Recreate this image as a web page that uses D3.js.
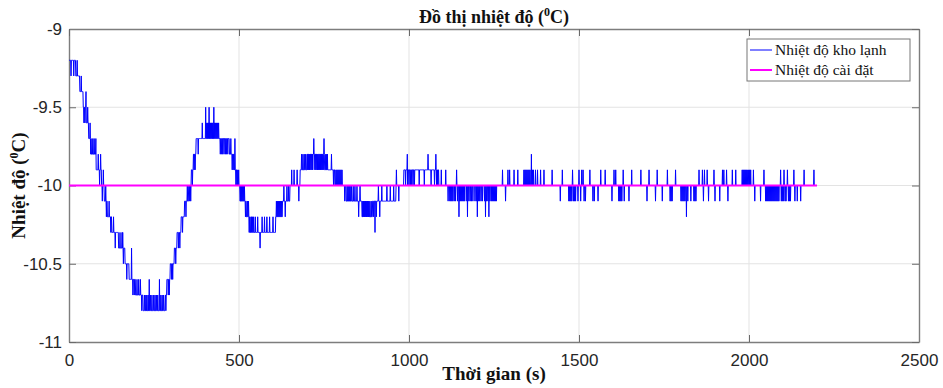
<!DOCTYPE html>
<html>
<head>
<meta charset="utf-8">
<script src="https://cdn.jsdelivr.net/npm/d3@7"></script>
<style>
  body { margin: 0; background: #fff; }
  svg { display: block; }
</style>
</head>
<body>
<div id="chart"></div>
<script>
// axis ticks
const timeTicks = [0, 500, 1000, 1500, 2000, 2500];
const tempTicks = [-11, -10.5, -10, -9.5, -9];

// set point (Nhiệt độ cài đặt)
const setTime = [0, 2200];
const setTemp = [-10, -10];

// cold room temperature (Nhiệt độ kho lạnh): level held from each time until the next
const baseTime = [0, 20, 32, 42, 51, 58, 66, 80, 96, 104, 113, 126, 146, 165, 177, 196, 218,
  283, 288, 298, 310, 318, 330, 340, 352, 360, 366, 374, 472, 486, 496, 503, 522, 532, 608,
  628, 650, 680, 700, 752, 782, 815, 862, 893, 962, 985, 1088];
const baseTemp = [-9.2, -9.3, -9.4, -9.5, -9.6, -9.7, -9.8, -9.9, -10, -10.1, -10.2, -10.3, -10.4, -10.5, -10.6, -10.7, -10.8,
  -10.7, -10.6, -10.5, -10.4, -10.3, -10.2, -10.1, -10, -9.9, -9.8, -9.7, -9.8, -9.9, -10, -10.1, -10.2, -10.3, -10.2,
  -10.1, -10, -9.9, -9.8, -9.9, -10, -10.1, -10.2, -10.1, -10, -9.9, -10];
const endTime = 2200;

// one-sample jumps away from the held level: [time, temp]
const spikes = [
  [6, -9.3], [14, -9.3], [24, -9.2], [36, -9.3], [44, -9.6], [47, -9.6], [50, -9.4], [55, -9.5],
  [62, -9.6], [64, -9.8], [70, -9.7], [74, -9.7], [79, -9.7], [86, -9.8], [90, -10], [93, -9.8],
  [98, -10.1], [101, -9.9], [108, -10], [110, -10.2], [118, -10.1], [123, -10.3], [131, -10.2],
  [136, -10.4], [150, -10.3], [156, -10.3], [158, -10.3], [160, -10.5], [170, -10.6], [184, -10.4],
  [188, -10.7], [192, -10.7], [200, -10.6], [205, -10.6], [210, -10.6], [214, -10.8],
  [222, -10.7], [226, -10.7], [229, -10.7], [233, -10.7], [236, -10.6], [240, -10.7], [244, -10.7],
  [249, -10.7], [253, -10.7], [257, -10.7], [261, -10.7], [266, -10.6], [270, -10.7], [274, -10.7],
  [278, -10.7], [285, -10.8], [292, -10.7], [295, -10.7], [302, -10.6], [305, -10.6], [314, -10.5],
  [322, -10.4], [326, -10.4], [334, -10.3], [344, -10.2], [348, -10], [355, -10.1], [358, -10.1],
  [363, -10], [368, -9.9], [371, -9.9],
  [380, -9.8], [392, -9.6], [402, -9.5], [405, -9.6], [408, -9.6], [410, -9.6], [412, -9.5],
  [414, -9.6], [416, -9.6], [419, -9.6], [421, -9.6], [423, -9.6], [426, -9.5], [428, -9.6],
  [431, -9.6], [434, -9.6], [437, -9.6], [440, -9.6], [445, -9.8], [449, -9.8], [452, -9.8],
  [456, -9.8], [460, -9.8], [463, -9.8], [467, -9.8], [476, -9.7], [480, -9.9], [483, -9.9],
  [488, -9.7], [491, -10], [494, -10], [499, -9.9],
  [505, -10], [507, -10], [510, -10], [513, -10], [516, -10], [519, -10.2], [525, -10.1],
  [528, -10.1], [530, -10.3], [535, -10.2], [537, -10.2], [540, -10.2], [543, -10.2], [548, -10.2],
  [555, -10.2], [562, -10.4], [568, -10.2], [575, -10.2], [582, -10.2], [590, -10.2], [600, -10.2],
  [610, -10.1], [613, -10.1], [616, -10.1], [619, -10.1], [622, -10.1], [625, -10.1],
  [632, -10], [636, -10.2], [641, -10], [646, -10], [655, -9.9], [662, -9.9], [671, -9.9],
  [676, -10.1], [684, -9.8], [688, -9.8], [692, -9.8], [696, -9.8],
  [702, -9.9], [704, -9.9], [707, -9.9], [709, -9.9], [712, -9.9], [715, -9.9], [717, -9.9],
  [720, -9.7], [723, -9.9], [726, -9.9], [729, -9.9], [731, -9.9], [734, -9.9], [737, -9.9],
  [740, -9.9], [742, -9.9], [745, -9.9], [748, -9.9], [750, -9.7],
  [755, -9.8], [758, -9.8], [760, -9.8], [772, -9.8], [778, -10],
  [785, -9.9], [788, -9.9], [791, -9.9], [794, -9.9], [797, -9.9], [800, -9.9], [803, -9.9],
  [811, -10.1], [818, -10], [821, -10], [824, -10], [827, -10], [831, -10], [836, -10], [841, -10],
  [847, -10], [852, -10.2], [856, -10],
  [864, -10.1], [866, -10.1], [868, -10.1], [870, -10.1], [872, -10.1], [874, -10.1], [876, -10.1],
  [878, -10.1], [880, -10.1], [882, -10.1], [885, -10.1], [889, -10.1],
  [896, -10.2], [900, -10.3], [904, -10.2], [910, -10], [914, -10.2], [920, -10], [935, -10],
  [945, -10], [955, -10], [963, -9.9], [970, -10.1],
  [990, -10], [995, -9.8], [996, -10], [1000, -10], [1004, -10], [1008, -10], [1012, -10],
  [1016, -10], [1030, -10], [1045, -10], [1056, -9.8], [1065, -10], [1075, -10], [1079, -9.8],
  [1081, -10], [1083, -10], [1085, -10],
  [1095, -9.9], [1108, -9.9], [1115, -10.1], [1120, -10.1], [1123, -10.1], [1126, -10.1],
  [1129, -10.1], [1133, -10.1], [1137, -10.1], [1140, -9.9], [1143, -10.1], [1147, -10.2],
  [1149, -10.1], [1152, -10.1], [1155, -10.1], [1158, -10.1], [1161, -10.1], [1164, -10.1],
  [1170, -10.1], [1172, -10.2], [1176, -10.1], [1180, -10.1], [1184, -10.1], [1188, -10.1],
  [1194, -10.1], [1198, -10.1], [1201, -10.2], [1204, -10.1], [1208, -10.1], [1212, -10.1],
  [1216, -10.1], [1222, -10.1], [1225, -10.2], [1228, -10.1], [1232, -10.1], [1235, -10.2],
  [1238, -10.1], [1242, -10.1], [1245, -10.1], [1248, -10.1], [1251, -10.1], [1254, -10.1],
  [1257, -10.1],
  [1275, -9.9], [1284, -10.1], [1291, -9.9], [1296, -9.9], [1309, -9.9], [1320, -9.9],
  [1338, -9.9], [1341, -9.9], [1344, -9.9], [1347, -9.9], [1350, -9.9], [1353, -9.9], [1356, -9.9],
  [1360, -9.8], [1363, -9.9], [1366, -9.9], [1372, -9.9], [1378, -9.9], [1387, -9.9], [1397, -9.9],
  [1421, -9.9], [1445, -10.1], [1451, -9.9], [1470, -10.1], [1473, -10.1], [1476, -10.1],
  [1479, -10.1], [1481, -9.9], [1484, -10.1], [1487, -10.1], [1490, -10.1], [1497, -10.1],
  [1500, -9.9], [1505, -10.1], [1508, -9.9], [1512, -9.9], [1515, -10.1], [1519, -10.1],
  [1532, -9.9], [1541, -10.1], [1545, -10.1], [1556, -10.1], [1564, -9.9], [1577, -9.9],
  [1597, -10.1], [1603, -9.9], [1608, -9.9], [1617, -10.1], [1620, -10.1], [1623, -10.1],
  [1626, -10.1], [1630, -9.9], [1633, -10.1], [1647, -10.1], [1655, -9.9], [1682, -9.9],
  [1700, -10.1], [1706, -9.9], [1725, -10.1], [1730, -9.9], [1745, -10.1], [1760, -9.9],
  [1768, -10.1], [1771, -10.1], [1774, -10.1], [1784, -9.9], [1800, -10.1], [1803, -10.1],
  [1806, -10.1], [1809, -10.1], [1812, -10.1], [1816, -10.2], [1820, -10.1], [1829, -10.1],
  [1838, -10.1], [1841, -10.1], [1844, -10.1],
  [1853, -9.9], [1863, -9.9], [1866, -10.1], [1869, -9.9], [1877, -9.9], [1881, -10.1],
  [1897, -9.9], [1900, -10.1], [1914, -10.1], [1922, -9.9], [1926, -9.9], [1934, -9.9],
  [1938, -10.1], [1951, -9.9], [1961, -9.9], [1980, -9.9], [1983, -9.9], [1986, -9.9],
  [1989, -9.9], [1992, -9.9], [1995, -9.9], [1999, -9.9], [2002, -9.9], [2005, -9.9],
  [2013, -9.9], [2017, -10.1], [2034, -10.1], [2044, -9.9], [2049, -10.1], [2052, -10.1],
  [2055, -10.1], [2058, -10.1], [2061, -10.1], [2064, -10.1], [2067, -10.1], [2070, -10.1],
  [2073, -10.1], [2076, -10.1], [2079, -10.1], [2082, -10.1], [2085, -10.1], [2088, -10.1],
  [2093, -9.9], [2095, -10.1], [2098, -10.1], [2101, -10.1], [2103, -9.9], [2106, -10.1],
  [2109, -10.1], [2113, -9.9], [2116, -10.1], [2119, -10.1], [2122, -10.1], [2132, -9.9],
  [2135, -10.1], [2142, -10.1], [2152, -10.1], [2162, -9.9], [2191, -9.9]
];

const W = 943, H = 388;
const margin = { top: 29, right: 24, bottom: 46, left: 69 };

const x = d3.scaleLinear().domain([0, 2500]).range([margin.left, W - margin.right]);
const y = d3.scaleLinear().domain([-11, -9]).range([H - margin.bottom, margin.top]);

// expand held levels + spikes into a 1 s sample series
const spikeAt = new Map(spikes);
const samples = d3.range(0, endTime + 1).map(function (t) {
  const i = d3.bisectRight(baseTime, t) - 1;
  return [t, spikeAt.has(t) ? spikeAt.get(t) : baseTemp[i]];
});

const svg = d3.select('#chart').append('svg')
  .attr('width', W).attr('height', H)
  .style('font-family', 'Liberation Sans, Arial, sans-serif');

svg.append('rect').attr('width', W).attr('height', H).attr('fill', '#fff');

// grid
const grid = svg.append('g').attr('stroke', '#e3e3e3').attr('stroke-width', 1);
grid.selectAll('.gx').data(timeTicks.slice(1, -1)).join('line')
  .attr('x1', d => x(d)).attr('x2', d => x(d))
  .attr('y1', y(-11)).attr('y2', y(-9));
grid.selectAll('.gy').data(tempTicks.slice(1, -1)).join('line')
  .attr('y1', d => y(d)).attr('y2', d => y(d))
  .attr('x1', x(0)).attr('x2', x(2500));

// axes (MATLAB style: ticks pointing inward, box on)
const fmt = d => String(d);
const ax = {
  bottom: d3.axisBottom(x).tickValues(timeTicks).tickFormat(fmt).tickSize(-7).tickSizeOuter(0).tickPadding(12),
  left: d3.axisLeft(y).tickValues(tempTicks).tickFormat(fmt).tickSize(-7).tickSizeOuter(0).tickPadding(7),
  top: d3.axisTop(x).tickValues(timeTicks).tickFormat('').tickSize(-7).tickSizeOuter(0),
  right: d3.axisRight(y).tickValues(tempTicks).tickFormat('').tickSize(-7).tickSizeOuter(0)
};
const axPos = {
  bottom: `translate(0,${y(-11)})`,
  left: `translate(${x(0)},0)`,
  top: `translate(0,${y(-9)})`,
  right: `translate(${x(2500)},0)`
};
Object.keys(ax).forEach(function (k) {
  const g = svg.append('g').attr('transform', axPos[k]).call(ax[k]);
  g.select('.domain').attr('stroke', '#7d7d7d').attr('stroke-width', 1.4);
  g.selectAll('.tick line').attr('stroke', '#6a6a6a');
  g.selectAll('.tick text').attr('fill', '#262626').style('font-size', '17px')
    .style('font-family', 'Liberation Sans, Arial, sans-serif');
});

// series
const line = d3.line().x(d => x(d[0])).y(d => y(d[1]));

svg.append('path').datum(samples)
  .attr('d', line)
  .attr('fill', 'none')
  .attr('stroke', '#0000ff')
  .attr('stroke-width', 1);

svg.append('path').datum(setTime.map((t, i) => [t, setTemp[i]]))
  .attr('d', line)
  .attr('fill', 'none')
  .attr('stroke', '#ff00ff')
  .attr('stroke-width', 2);

// title and labels
const serif = 'Liberation Serif, Times New Roman, serif';

const title = svg.append('text')
  .attr('x', (x(0) + x(2500)) / 2).attr('y', 23)
  .attr('text-anchor', 'middle')
  .style('font-family', serif).style('font-weight', 'bold').style('font-size', '18px')
  .attr('fill', '#111');
title.append('tspan').text('Đồ thị nhiệt độ (');
title.append('tspan').text('0').style('font-size', '12px').attr('dy', -7);
title.append('tspan').text('C)').attr('dy', 7);

svg.append('text')
  .attr('x', (x(0) + x(2500)) / 2).attr('y', 380)
  .attr('text-anchor', 'middle')
  .style('font-family', serif).style('font-weight', 'bold').style('font-size', '19px')
  .attr('fill', '#111')
  .text('Thời gian (s)');

const ylab = svg.append('text')
  .attr('transform', `translate(25,${(y(-11) + y(-9)) / 2}) rotate(-90)`)
  .attr('text-anchor', 'middle')
  .style('font-family', serif).style('font-weight', 'bold').style('font-size', '19px')
  .attr('fill', '#111');
ylab.append('tspan').text('Nhiệt độ (');
ylab.append('tspan').text('0').style('font-size', '12px').attr('dy', -7);
ylab.append('tspan').text('C)').attr('dy', 7);

// legend
const legendNames = ['Nhiệt độ kho lạnh', 'Nhiệt độ cài đặt'];
const legendColors = ['#0000ff', '#ff00ff'];
const legendWidths = [1, 2];

const lg = svg.append('g').attr('transform', 'translate(747,39)');
lg.append('rect').attr('width', 163).attr('height', 42)
  .attr('fill', '#fff').attr('stroke', '#777').attr('stroke-width', 1);
const item = lg.selectAll('.item').data(legendNames).join('g')
  .attr('transform', (d, i) => `translate(0,${11 + i * 20})`);
item.append('line')
  .attr('x1', 3).attr('x2', 25).attr('y1', 0).attr('y2', 0)
  .attr('stroke', (d, i) => legendColors[i])
  .attr('stroke-width', (d, i) => legendWidths[i]);
item.append('text')
  .attr('x', 28).attr('y', 5)
  .style('font-family', serif).style('font-size', '15.5px')
  .attr('fill', '#111')
  .text(d => d);
</script>
</body>
</html>
